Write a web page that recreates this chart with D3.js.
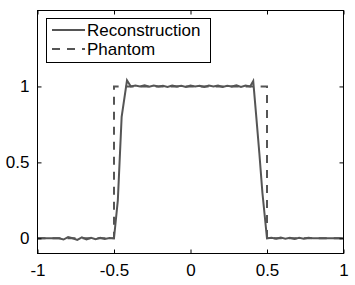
<!DOCTYPE html>
<html><head><meta charset="utf-8">
<script src="https://cdn.jsdelivr.net/npm/d3@7"></script>
<style>body{margin:0;background:#fff}svg{display:block}text{font-family:"Liberation Sans",Arial,sans-serif}</style>
</head><body><svg id="c" width="355" height="285"></svg>
<script>
const xTicks = [-1, -0.5, 0, 0.5, 1];
const yTicks = [0, 0.5, 1];
const seriesNames = ["Reconstruction", "Phantom"];
const phantomX = [-1, -0.5, -0.5, 0.5, 0.5, 1];
const phantomY = [0, 0, 1, 1, 0, 0];
const recX = [-1,-0.95,-0.9,-0.86,-0.83,-0.8,-0.77,-0.74,-0.71,-0.68,-0.65,-0.62,-0.59,-0.56,-0.53,-0.5,-0.475,-0.45,-0.415,-0.39,-0.36,-0.33,-0.3,-0.27,-0.24,-0.21,-0.18,-0.15,-0.12,-0.09,-0.06,-0.03,0,0.03,0.06,0.09,0.12,0.15,0.18,0.21,0.24,0.27,0.3,0.33,0.36,0.39,0.41,0.43,0.45,0.47,0.5,0.53,0.56,0.59,0.62,0.65,0.68,0.71,0.74,0.77,0.8,0.83,0.86,0.9,0.95,1];
const recY = [0,0,0,0,-0.008,0.008,0,-0.01,0.006,-0.008,0.004,-0.006,0.003,-0.004,0.002,0,0.25,0.8,1.04,1.0,1.006,1.0,1.008,0.998,1.006,1.0,1.005,0.997,1.006,1.0,1.004,0.997,1.006,0.999,1.005,0.997,1.006,1.0,1.006,0.997,1.005,1.0,1.008,0.996,1.006,1.0,1.035,0.8,0.56,0.3,0,0.004,-0.003,0.005,-0.002,0.003,-0.004,0.003,-0.002,0.003,0,0,0,0,0,0];

const svg = d3.select("#c");
const L = 37.5, R = 343.5, T = 10.5, B = 253.5;
const x = d3.scaleLinear().domain([-1, 1]).range([L, R]);
const y = d3.scaleLinear().domain([-0.1, 1.5]).range([B, T]);
const col = "#555";
const dash = "8,7";

const line = d3.line().x(d => x(d[0])).y(d => y(d[1]));
svg.append("path").datum(phantomX.map((v, i) => [v, phantomY[i]]))
  .attr("d", line).attr("fill", "none").attr("stroke", col).attr("stroke-width", 2).attr("stroke-dasharray", dash);
svg.append("path").datum(recX.map((v, i) => [v, recY[i]]))
  .attr("d", line).attr("fill", "none").attr("stroke", col).attr("stroke-width", 2);

const fs = "17px";
const fmt = d => String(d);
const ax = svg.append("g").attr("transform", `translate(0,${B})`)
  .call(d3.axisBottom(x).tickValues(xTicks).tickSizeInner(-4).tickSizeOuter(0).tickPadding(10).tickFormat(fmt));
const axT = svg.append("g").attr("transform", `translate(0,${T})`)
  .call(d3.axisTop(x).tickValues(xTicks).tickSizeInner(-4).tickSizeOuter(0).tickFormat(""));
const ay = svg.append("g").attr("transform", `translate(${L},0)`)
  .call(d3.axisLeft(y).tickValues(yTicks).tickSizeInner(-4).tickSizeOuter(0).tickPadding(8).tickFormat(fmt));
const ayR = svg.append("g").attr("transform", `translate(${R},0)`)
  .call(d3.axisRight(y).tickValues(yTicks).tickSizeInner(-4).tickSizeOuter(0).tickFormat(""));
[ax, axT, ay, ayR].forEach(g => {
  g.select(".domain").remove();
  g.selectAll("line").attr("stroke", "#000");
  g.selectAll("text").attr("font-size", fs).attr("fill", "#000").attr("font-family", '"Liberation Sans",Arial,sans-serif');
});
svg.append("rect").attr("x", L).attr("y", T).attr("width", R - L).attr("height", B - T)
  .attr("fill", "none").attr("stroke", "#000").attr("stroke-width", 1);

const lg = svg.append("g");
lg.append("rect").attr("x", 46.5).attr("y", 18.5).attr("width", 164).attr("height", 44)
  .attr("fill", "#fff").attr("stroke", "#000");
seriesNames.forEach((n, i) => {
  const yy = 30 + i * 19;
  lg.append("line").attr("x1", 52).attr("x2", 85).attr("y1", yy).attr("y2", yy)
    .attr("stroke", col).attr("stroke-width", 2).attr("stroke-dasharray", i ? dash : null);
  lg.append("text").attr("x", 87).attr("y", yy + 6).attr("font-size", "17px").text(n);
});
</script></body></html>
